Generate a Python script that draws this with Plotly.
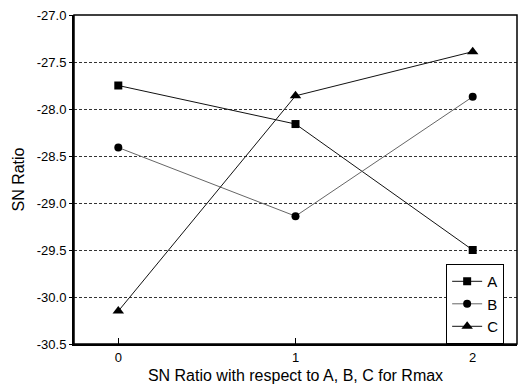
import plotly.graph_objects as go

levels = [0, 1, 2]
series_names = ["A", "B", "C"]
a_vals = [-27.75, -28.16, -29.50]
b_vals = [-28.41, -29.14, -27.87]
c_vals = [-30.15, -27.86, -27.39]
y_ticks = [-27.0, -27.5, -28.0, -28.5, -29.0, -29.5, -30.0, -30.5]
y_tick_text = ["-27.0", "-27.5", "-28.0", "-28.5", "-29.0", "-29.5", "-30.0", "-30.5"]

symbols = ["square", "circle", "triangle-up"]
marker_sizes = [8, 8, 10]
line_colors = ["#111111", "#666666", "#111111"]

fig = go.Figure()
for name, vals, sym, ms, lc in zip(series_names, [a_vals, b_vals, c_vals], symbols, marker_sizes, line_colors):
    fig.add_trace(go.Scatter(
        x=levels, y=vals, name=name, mode="lines+markers",
        line=dict(color=lc, width=1),
        marker=dict(symbol=sym, size=ms, color="black"),
    ))

font = "Liberation Sans, Arial, sans-serif"
fig.update_layout(
    width=519, height=390,
    margin=dict(l=74, r=2, t=15, b=46),
    paper_bgcolor="white", plot_bgcolor="white",
    font=dict(family=font, size=13, color="black"),
    showlegend=True,
    legend=dict(
        x=0.971, y=0.243, xanchor="right", yanchor="top",
        bordercolor="black", borderwidth=1, bgcolor="white",
        font=dict(size=15), tracegroupgap=0, itemwidth=30,
    ),
    xaxis=dict(
        range=[-0.25, 2.25], tickvals=levels, ticktext=[str(v) for v in levels],
        ticks="inside", ticklen=6, tickcolor="black", showgrid=False,
        showline=True, linecolor="black", linewidth=2, mirror=False,
        zeroline=False,
        title=dict(text="SN Ratio with respect to A, B, C for Rmax", font=dict(size=16), standoff=6),
    ),
    yaxis=dict(
        range=[-30.5, -27.0], tickvals=y_ticks, ticktext=y_tick_text,
        ticks="outside", ticklen=3, tickcolor="black",
        showgrid=True, gridcolor="#333333", griddash="3px,2px", gridwidth=1,
        showline=True, linecolor="black", linewidth=2, mirror=False,
        zeroline=False,
        title=dict(text="SN Ratio", font=dict(size=16), standoff=8),
    ),
)
# frame on top/right
fig.add_shape(type="rect", xref="paper", yref="paper", x0=0, y0=0, x1=1, y1=1,
              line=dict(color="black", width=1.5), layer="above")

fig.write_html(
    "out.html",
    config={"displayModeBar": False},
    post_script="document.body.style.margin='0';document.body.style.overflow='hidden';",
)
